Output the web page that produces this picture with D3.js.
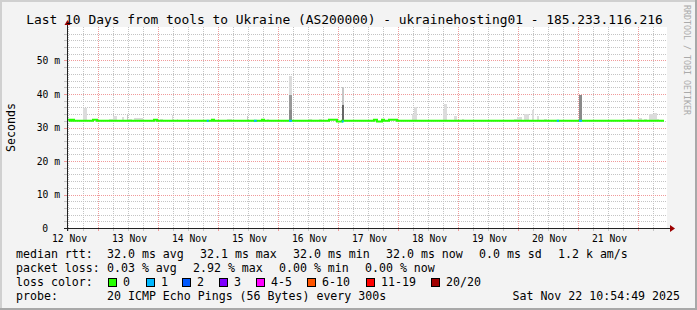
<!DOCTYPE html>
<html>
<head>
<meta charset="utf-8">
<title>smokeping</title>
<script src="https://cdn.jsdelivr.net/npm/d3@7"></script>
<style>
body { margin: 0; background: #f3f3f3; }
text { font-family: "DejaVu Sans Mono", monospace; fill: #000; }
</style>
</head>
<body>
<div id="chart"></div>
<script>
// hours counted from 12 Nov 2025 00:00, values in ms
var startHour = 11.6, endHour = 251.6;

// median rtt, step line: [hour, ms]
var medianSteps = [
  [11.6, 32.3], [12.8, 32.0], [13.6, 32.3], [14.4, 32.0], [22.0, 32.3], [23.6, 32.0],
  [46.4, 32.3], [47.6, 32.0], [69.6, 32.3], [70.4, 32.0], [89.6, 32.3], [90.4, 32.0],
  [116.4, 32.3], [119.6, 31.8], [121.6, 32.0], [134.4, 32.3], [135.6, 31.8], [137.6, 32.3],
  [138.4, 32.0], [140.4, 32.3], [143.6, 32.0], [250.4, 32.0]
];

// periods with 1 of 20 pings lost: [from, to]
var lossOne = [[67.5, 68.3], [86.4, 87.5], [100.4, 101.6], [121.5, 122.3], [207.5, 208.4], [216.4, 217.6]];

// smoke: [from, to, lo ms, hi ms, band]
var smoke = [
  [18.0, 19.5, 32, 35.7, 0], [28.4, 30.0, 32, 32.6, 0], [30.0, 31.6, 32, 33.4, 0],
  [33.5, 34.4, 32, 33.0, 0], [35.5, 36.0, 32, 34.0, 1], [36.0, 37.5, 32, 32.6, 0],
  [38.4, 42.1, 32, 32.9, 0], [48.8, 50.0, 32, 32.6, 0], [53.5, 54.0, 32, 33.7, 0],
  [55.5, 56.0, 32, 32.6, 0], [75.5, 77.5, 32, 32.6, 0], [83.5, 84.0, 32, 33.4, 1],
  [91.5, 92.4, 32, 32.6, 0],
  [100.4, 101.6, 39.7, 45.4, 0], [100.4, 101.6, 35.2, 39.7, 2], [100.4, 101.6, 32, 35.2, 3],
  [108.4, 109.5, 32, 32.6, 0], [112.4, 113.5, 32, 32.6, 0],
  [121.5, 122.3, 36.7, 42.1, 1], [121.5, 122.3, 32, 36.7, 4],
  [149.5, 150.4, 32, 34.0, 0], [150.4, 151.5, 32, 36.1, 0], [161.9, 162.4, 32, 35.2, 0],
  [162.4, 163.5, 32, 36.9, 0], [166.4, 167.5, 32, 33.4, 0], [169.5, 170.4, 32, 32.6, 0],
  [190.4, 191.5, 32, 32.6, 0], [191.5, 193.5, 32, 33.1, 0], [194.4, 196.4, 32, 34.0, 0],
  [197.5, 198.4, 32, 35.2, 0], [199.5, 200.4, 32, 33.4, 0], [202.4, 203.5, 32, 32.6, 0],
  [216.4, 217.6, 32, 39.7, 3],
  [235.5, 237.5, 32, 32.6, 0], [240.0, 241.5, 32, 32.9, 0], [242.4, 243.6, 32, 32.6, 0],
  [244.4, 246.4, 32, 34.0, 0], [246.4, 247.5, 32, 34.3, 0], [247.5, 248.4, 32, 32.6, 0]
];

var title = "Last 10 Days from tools to Ukraine (AS200000) - ukrainehosting01 - 185.233.116.216";
var yTickLabels = ["0", "10 m", "20 m", "30 m", "40 m", "50 m"];
var rttStats = ["32.0 ms avg", "32.1 ms max", "32.0 ms min", "32.0 ms now", "0.0 ms sd", "1.2 k am/s"];
var lossStats = ["0.03 % avg", "2.92 % max", "0.00 % min", "0.00 % now"];
var lossLabels = ["0", "1", "2", "3", "4-5", "6-10", "11-19", "20/20"];
var lossColors = ["#26ff00", "#00b8ff", "#0059ff", "#7e00ff", "#ff00ff", "#ff5500", "#ff0000", "#a10000"];
var probeText = "20 ICMP Echo Pings (56 Bytes) every 300s";
var stamp = "Sat Nov 22 10:54:49 2025";

var W = 697, H = 310;
var plot = { left: 67, right: 667, top: 27, bottom: 228 };
var bandColors = ["#dcdcdc", "#c6c6c6", "#9a9a9a", "#8a8a8a", "#666666"];

var t0 = Date.UTC(2025, 10, 12);
function hd(h) { return new Date(t0 + h * 3600000); }

var x = d3.scaleUtc().domain([hd(startHour), hd(endHour)]).range([plot.left, plot.right]);
var y = d3.scaleLinear().domain([0, 60]).range([plot.bottom, plot.top]);

var svg = d3.select("#chart").append("svg")
  .attr("width", W).attr("height", H);

// frame
svg.append("rect").attr("width", W).attr("height", H).attr("fill", "#f3f3f3");
svg.append("path").attr("d", "M0,1H" + W + "M1,0V" + H).attr("stroke", "#d0d0d0").attr("stroke-width", 2);
svg.append("path").attr("d", "M0," + (H - 1) + "H" + W + "M" + (W - 1) + ",0V" + H).attr("stroke", "#a8a8a8").attr("stroke-width", 2);
svg.append("rect").attr("x", plot.left).attr("y", plot.top)
  .attr("width", plot.right - plot.left).attr("height", plot.bottom - plot.top).attr("fill", "#fff");

var grid = svg.append("g").attr("shape-rendering", "crispEdges").attr("stroke-dasharray", "1,1");

function px(d) { return Math.round(x(d)) + 0.5; }
function py(v) { return Math.round(y(v)) + 0.5; }

// vertical grid
var minorT = d3.utcHour.every(6).range(hd(startHour), hd(endHour));
var majorT = d3.utcDay.range(hd(startHour), hd(endHour));
grid.selectAll(".vmin").data(minorT.filter(function(d){ return d.getUTCHours() != 0; })).enter().append("line")
  .attr("x1", px).attr("x2", px)
  .attr("y1", plot.top).attr("y2", plot.bottom).attr("stroke", "#c4c4c4");
grid.selectAll(".vmaj").data(majorT).enter().append("line")
  .attr("x1", px).attr("x2", px)
  .attr("y1", plot.top).attr("y2", plot.bottom).attr("stroke", "#f09a9a");

// horizontal grid
var minorV = d3.range(2, 60, 2).filter(function(v){ return v % 10 != 0; });
var majorV = d3.range(10, 60, 10);
grid.selectAll(".hmin").data(minorV).enter().append("line")
  .attr("x1", plot.left).attr("x2", plot.right)
  .attr("y1", py).attr("y2", py)
  .attr("stroke", "#c4c4c4");
grid.selectAll(".hmaj").data(majorV).enter().append("line")
  .attr("x1", plot.left).attr("x2", plot.right)
  .attr("y1", py).attr("y2", py)
  .attr("stroke", "#f09a9a");

// tick marks
var ticks = svg.append("g").attr("shape-rendering", "crispEdges");
ticks.selectAll(".xt").data(minorT).enter().append("line")
  .attr("x1", px).attr("x2", px)
  .attr("y1", plot.bottom).attr("y2", plot.bottom + 3)
  .attr("stroke", function(d){ return d.getUTCHours() == 0 ? "#f09a9a" : "#c4c4c4"; });
ticks.selectAll(".yt").data(d3.range(2, 60, 2)).enter().append("line")
  .attr("x1", plot.left - 3).attr("x2", plot.left)
  .attr("y1", py).attr("y2", py)
  .attr("stroke", function(d){ return d % 10 == 0 ? "#f09a9a" : "#c4c4c4"; });

// smoke
svg.append("g").attr("shape-rendering", "crispEdges").selectAll("rect").data(smoke).enter().append("rect")
  .attr("x", function(d){ return x(hd(d[0])); })
  .attr("width", function(d){ return x(hd(d[1])) - x(hd(d[0])); })
  .attr("y", function(d){ return y(d[3]); })
  .attr("height", function(d){ return y(d[2]) - y(d[3]); })
  .attr("fill", function(d){ return bandColors[d[4]]; });

// median line
var line = d3.line()
  .x(function(d){ return x(hd(d[0])); })
  .y(function(d){ return y(d[1]); })
  .curve(d3.curveStepAfter);
svg.append("path").datum(medianSteps).attr("d", line)
  .attr("fill", "none").attr("stroke", lossColors[0]).attr("stroke-width", 2);

function medianAt(h) {
  var v = medianSteps[0][1];
  medianSteps.forEach(function(s){ if (s[0] <= h) v = s[1]; });
  return v;
}
svg.append("g").selectAll("line").data(lossOne).enter().append("line")
  .attr("x1", function(d){ return x(hd(d[0])); }).attr("x2", function(d){ return x(hd(d[1])); })
  .attr("y1", function(d){ return y(medianAt(d[0])); }).attr("y2", function(d){ return y(medianAt(d[0])); })
  .attr("stroke", lossColors[1]).attr("stroke-width", 2);

// axes
svg.append("path").attr("d", "M" + (plot.left - 3) + "," + (plot.bottom + 0.5) + "H671M" + (plot.left + 0.5) + "," + (plot.bottom + 3) + "V24")
  .attr("stroke", "#222").attr("stroke-width", 1).attr("fill", "none");
svg.append("path").attr("d", "M670,225L675,228.5L670,232Z").attr("fill", "#9c0000");
svg.append("path").attr("d", "M64.5,25L67.5,20L70.5,25Z").attr("fill", "#9c0000");

// x labels at noon
var fmt = d3.utcFormat("%d %b");
var noons = majorT.map(function(d){ return new Date(+d - 12 * 3600000); })
  .filter(function(d){ return x(d) > plot.left - 5; });
svg.append("g").selectAll("text").data(noons).enter().append("text")
  .attr("x", function(d){ return x(d) + 1.5; }).attr("y", 241.5)
  .attr("text-anchor", "middle").attr("font-size", "9.7px")
  .text(fmt);

// y labels: "0" sits under the numbers, others end with the unit
svg.append("g").attr("font-size", "9.7px").selectAll("text").data(yTickLabels).enter().append("text")
  .attr("x", function(d, i){ return i == 0 ? 48 : 60; })
  .attr("y", function(d, i){ return y(i * 10) + 3.5; })
  .attr("text-anchor", "end").text(function(d){ return d; });

svg.append("text").attr("transform", "translate(14.5,127.5) rotate(-90)")
  .attr("text-anchor", "middle").attr("font-size", "11.6px").text("Seconds");

svg.append("text").attr("x", 344.5).attr("y", 24).attr("text-anchor", "middle")
  .attr("font-size", "12.9px").text(title);

svg.append("text").attr("transform", "translate(684,5) rotate(90)")
  .attr("font-size", "8.3px").style("fill", "#aaa").text("RRDTOOL / TOBI OETIKER");

// legend
var lg = svg.append("g").attr("font-size", "11.6px");
var rowY = [258.3, 272.3, 286.3, 300.3];
lg.append("text").attr("x", 16).attr("y", rowY[0]).text("median rtt:");
lg.append("text").attr("x", 16).attr("y", rowY[1]).text("packet loss:");
lg.append("text").attr("x", 16).attr("y", rowY[2]).text("loss color:");
lg.append("text").attr("x", 16).attr("y", rowY[3]).text("probe:");

var rttX = [107, 200, 293, 386, 479, 558];
lg.selectAll(".r").data(rttStats).enter().append("text")
  .attr("x", function(d, i){ return rttX[i]; }).attr("y", rowY[0]).text(function(d){ return d; });
var lossX = [107, 193, 279, 365];
lg.selectAll(".l").data(lossStats).enter().append("text")
  .attr("x", function(d, i){ return lossX[i]; }).attr("y", rowY[1]).text(function(d){ return d; });

var boxX = [108, 146, 182, 219, 256, 307, 366, 431];
lg.selectAll(".b").data(lossColors).enter().append("rect")
  .attr("x", function(d, i){ return boxX[i] + 0.5; }).attr("y", 278.5)
  .attr("width", 8).attr("height", 8)
  .attr("fill", function(d){ return d; }).attr("stroke", "#000").attr("stroke-width", 1);
lg.selectAll(".bl").data(lossLabels).enter().append("text")
  .attr("x", function(d, i){ return boxX[i] + 15; }).attr("y", rowY[2]).text(function(d){ return d; });

lg.append("text").attr("x", 107).attr("y", rowY[3]).text(probeText);
lg.append("text").attr("x", 680).attr("y", rowY[3]).attr("text-anchor", "end").text(stamp);
</script>
</body>
</html>
